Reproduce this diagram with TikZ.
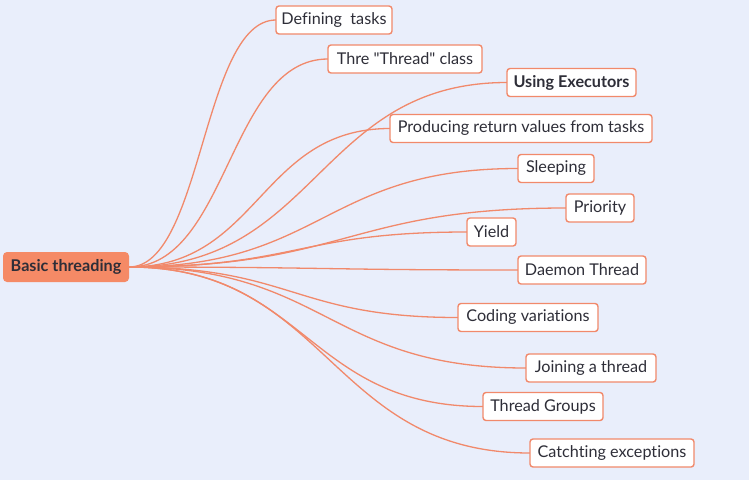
\documentclass[tikz,border=0pt]{standalone}
\usepackage{fontspec}
\setmainfont{Lato}[Ligatures={NoCommon,TeXOff}]
\usetikzlibrary{calc}
\definecolor{bg}{HTML}{E9EEFB}
\definecolor{ln}{HTML}{F1896B}
\definecolor{rootc}{HTML}{F58A66}
\definecolor{txt}{HTML}{2E2E38}
\tikzset{
  topic/.style={draw=ln, line width=1.4pt, fill=white, rounded corners=3pt, text=txt,
    minimum height=28pt, inner sep=0pt, font=\fontsize{16.2}{18}\selectfont},
  rootnode/.style={fill=rootc, rounded corners=4pt, text=txt, minimum height=30pt,
    inner sep=0pt, font=\fontsize{16.2}{18}\selectfont\bfseries},
  conn/.style={draw=ln, line width=1.3pt}
}
\begin{document}
\begin{tikzpicture}[x=1pt,y=-1pt]
\fill[bg] (0,0) rectangle (749,480);
\useasboundingbox (0,0) rectangle (749,480);
\coordinate (rootout) at (129,267);
\coordinate (n1in) at (276,20);
\coordinate (n2in) at (328,59);
\coordinate (n3in) at (507,82.5);
\coordinate (n4in) at (390,128.5);
\coordinate (n5in) at (518,168.5);
\coordinate (n6in) at (566,208);
\coordinate (n7in) at (467,232);
\coordinate (n8in) at (518,270);
\coordinate (n9in) at (458,317.5);
\coordinate (n10in) at (526,368);
\coordinate (n11in) at (483,406.5);
\coordinate (n12in) at (530,453);
\foreach \i in {1,...,12}{
  \draw[conn] let \p1=(rootout), \p2=(n\i in), \n1={(\x2-\x1)/2} in (rootout) .. controls +(\n1,0) and +(-\n1,0) .. (n\i in);
}
\node[rootnode, minimum width=126pt] (root) at (66,267) {Basic threading};
\node[topic, minimum width=116pt] (n1) at (334,20) {Defining\ \ tasks};
\node[topic, minimum width=154pt] (n2) at (405,59) {Thre "Thread" class};
\node[topic, minimum width=129pt, font=\fontsize{16.2}{18}\selectfont\bfseries] (n3) at (571.5,82.5) {Using Executors};
\node[topic, minimum width=262pt] (n4) at (521,128.5) {Producing return values from tasks};
\node[topic, minimum width=76pt] (n5) at (556,168.5) {Sleeping};
\node[topic, minimum width=68pt] (n6) at (600,208) {Priority};
\node[topic, minimum width=49pt] (n7) at (491.5,232) {Yield};
\node[topic, minimum width=128pt] (n8) at (582,270) {Daemon Thread};
\node[topic, minimum width=140pt] (n9) at (528,317.5) {Coding variations};
\node[topic, minimum width=130pt] (n10) at (591,368) {Joining a thread};
\node[topic, minimum width=120pt] (n11) at (543,406.5) {Thread Groups};
\node[topic, minimum width=164pt] (n12) at (612,453) {Catchting exceptions};
\end{tikzpicture}
\end{document}
